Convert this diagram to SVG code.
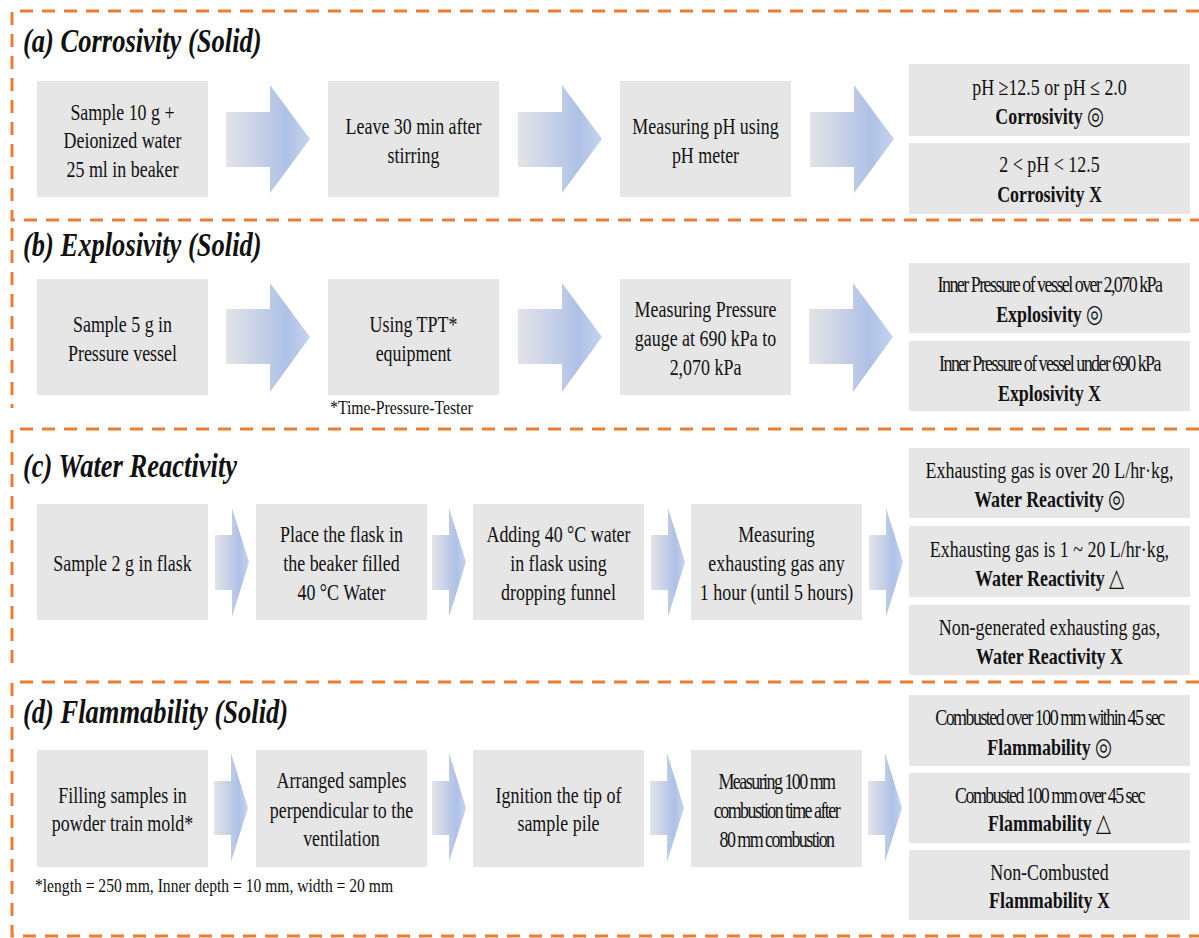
<svg xmlns="http://www.w3.org/2000/svg" width="1199" height="938" viewBox="0 0 1199 938">
<defs>
<linearGradient id="ag" x1="0" y1="0" x2="1" y2="0">
<stop offset="0" stop-color="#E4E4E8"/>
<stop offset="0.72" stop-color="#AEC1E6"/>
<stop offset="1" stop-color="#C6D4EF"/>
</linearGradient>
<style>
.frame{fill:none;stroke:#ED7D31;stroke-width:3;stroke-dasharray:13 9}
.box{fill:#E6E6E6}
.arr{fill:url(#ag)}
text{font-family:"Liberation Serif","Times New Roman",serif;fill:#111}
.t{font-size:23px;text-anchor:middle}
.n{letter-spacing:-1.95px}
.b{font-size:23px;text-anchor:middle;font-weight:bold}
.s{font-weight:normal;font-size:25px}
.h{font-size:34px;font-weight:bold;font-style:italic}
.f{font-size:18px}
</style>
</defs>
<rect width="1199" height="938" fill="#fff"/>
<g id="frames">
<path class="frame" d="M1199,11 H12 V220 H1199"/>
<path class="frame" d="M12,228 V408"/>
<path class="frame" d="M1199,429 H12 V668"/>
<path class="frame" d="M1199,682 H12 V936 H1199"/>
</g>
<g id="titles">
<text class="h" transform="scale(0.78 1)" x="29.5" y="52">(a) Corrosivity (Solid)</text>
<text class="h" transform="scale(0.78 1)" x="29.5" y="256">(b) Explosivity (Solid)</text>
<text class="h" transform="scale(0.78 1)" x="29.5" y="477">(c) Water Reactivity</text>
<text class="h" transform="scale(0.78 1)" x="29.5" y="723">(d) Flammability (Solid)</text>
</g>
<g id="connectors">
<polygon class="arr" points="226,112 270,112 270,85 310,139 270,193 270,167 226,167"/>
<polygon class="arr" points="518,112 562,112 562,85 602,139 562,193 562,167 518,167"/>
<polygon class="arr" points="810,112 854,112 854,85 894,139 854,193 854,167 810,167"/>
<polygon class="arr" points="226,309 270,309 270,283 310,337 270,392 270,364 226,364"/>
<polygon class="arr" points="518,309 562,309 562,283 602,337 562,392 562,364 518,364"/>
<polygon class="arr" points="809,309 853,309 853,283 893,337 853,392 853,364 809,364"/>
<polygon class="arr" points="215,535 232,535 232,508 249,562 232,617 232,590 215,590"/>
<polygon class="arr" points="432,535 449,535 449,508 466,562 449,617 449,590 432,590"/>
<polygon class="arr" points="651,535 668,535 668,508 685,562 668,617 668,590 651,590"/>
<polygon class="arr" points="869,535 886,535 886,508 903,562 886,617 886,590 869,590"/>
<polygon class="arr" points="214,781 231,781 231,753 248,808 231,862 231,835 214,835"/>
<polygon class="arr" points="432,781 449,781 449,753 466,808 449,862 449,835 432,835"/>
<polygon class="arr" points="650,781 667,781 667,753 684,808 667,862 667,835 650,835"/>
<polygon class="arr" points="868,781 885,781 885,753 902,808 885,862 885,835 868,835"/>
</g>
<g id="a1"><rect class="box" x="37" y="81" width="171" height="116"/>
<text class="t" transform="scale(0.78 1)" x="157.05" y="120">Sample 10 g +</text>
<text class="t" transform="scale(0.78 1)" x="157.05" y="148">Deionized water</text>
<text class="t" transform="scale(0.78 1)" x="157.05" y="177">25 ml in beaker</text></g>
<g id="a2"><rect class="box" x="328" y="81" width="171" height="116"/>
<text class="t" transform="scale(0.78 1)" x="530.13" y="134">Leave 30 min after</text>
<text class="t" transform="scale(0.78 1)" x="530.13" y="163">stirring</text></g>
<g id="a3"><rect class="box" x="620" y="81" width="171" height="116"/>
<text class="t" transform="scale(0.78 1)" x="904.49" y="134">Measuring pH using</text>
<text class="t" transform="scale(0.78 1)" x="904.49" y="163">pH meter</text></g>
<g id="a4"><rect class="box" x="909" y="64" width="281" height="72"/>
<text class="t" transform="scale(0.78 1)" x="1345.51" y="95">pH ≥12.5 or pH ≤ 2.0</text>
<text class="b" transform="scale(0.78 1)" x="1345.51" y="124">Corrosivity <tspan class="s">◎</tspan></text></g>
<g id="a5"><rect class="box" x="909" y="143" width="281" height="71"/>
<text class="t" transform="scale(0.78 1)" x="1345.51" y="172">2 &lt; pH &lt; 12.5</text>
<text class="b" transform="scale(0.78 1)" x="1345.51" y="202">Corrosivity X</text></g>
<g id="b1"><rect class="box" x="37" y="279" width="171" height="116"/>
<text class="t" transform="scale(0.78 1)" x="157.05" y="332">Sample 5 g in</text>
<text class="t" transform="scale(0.78 1)" x="157.05" y="361">Pressure vessel</text></g>
<g id="b2"><rect class="box" x="328" y="279" width="171" height="116"/>
<text class="t" transform="scale(0.78 1)" x="530.13" y="332">Using TPT*</text>
<text class="t" transform="scale(0.78 1)" x="530.13" y="361">equipment</text>
<text class="f" transform="scale(0.78 1)" x="423.08" y="414" textLength="183" lengthAdjust="spacingAndGlyphs">*Time-Pressure-Tester</text></g>
<g id="b3"><rect class="box" x="620" y="279" width="171" height="116"/>
<text class="t" transform="scale(0.78 1)" x="904.49" y="317">Measuring Pressure</text>
<text class="t" transform="scale(0.78 1)" x="904.49" y="346">gauge at 690 kPa to</text>
<text class="t" transform="scale(0.78 1)" x="904.49" y="375">2,070 kPa</text></g>
<g id="b4"><rect class="box" x="909" y="263" width="281" height="70"/>
<text class="t n" transform="scale(0.78 1)" x="1345.51" y="292">Inner Pressure of vessel over 2,070 kPa</text>
<text class="b" transform="scale(0.78 1)" x="1345.51" y="322">Explosivity <tspan class="s">◎</tspan></text></g>
<g id="b5"><rect class="box" x="909" y="341" width="281" height="70"/>
<text class="t n" transform="scale(0.78 1)" x="1345.51" y="371">Inner Pressure of vessel under 690 kPa</text>
<text class="b" transform="scale(0.78 1)" x="1345.51" y="401">Explosivity X</text></g>
<g id="c1"><rect class="box" x="37" y="504" width="171" height="116"/>
<text class="t" transform="scale(0.78 1)" x="157.05" y="571">Sample 2 g in flask</text></g>
<g id="c2"><rect class="box" x="256" y="504" width="171" height="116"/>
<text class="t" transform="scale(0.78 1)" x="437.82" y="542">Place the flask in</text>
<text class="t" transform="scale(0.78 1)" x="437.82" y="571">the beaker filled</text>
<text class="t" transform="scale(0.78 1)" x="437.82" y="600">40 °C Water</text></g>
<g id="c3"><rect class="box" x="473" y="504" width="171" height="116"/>
<text class="t" transform="scale(0.78 1)" x="716.03" y="542">Adding 40 °C water</text>
<text class="t" transform="scale(0.78 1)" x="716.03" y="571">in flask using</text>
<text class="t" transform="scale(0.78 1)" x="716.03" y="600">dropping funnel</text></g>
<g id="c4"><rect class="box" x="691" y="504" width="171" height="116"/>
<text class="t" transform="scale(0.78 1)" x="995.51" y="542">Measuring</text>
<text class="t" transform="scale(0.78 1)" x="995.51" y="571">exhausting gas any</text>
<text class="t" transform="scale(0.78 1)" x="995.51" y="600">1 hour (until 5 hours)</text></g>
<g id="c5"><rect class="box" x="909" y="448" width="281" height="70"/>
<text class="t" transform="scale(0.78 1)" x="1345.51" y="478">Exhausting gas is over 20 L/hr·kg,</text>
<text class="b" transform="scale(0.78 1)" x="1345.51" y="507">Water Reactivity <tspan class="s">◎</tspan></text></g>
<g id="c6"><rect class="box" x="909" y="526" width="281" height="71"/>
<text class="t" transform="scale(0.78 1)" x="1345.51" y="557">Exhausting gas is 1 ~ 20 L/hr·kg,</text>
<text class="b" transform="scale(0.78 1)" x="1345.51" y="586">Water Reactivity <tspan class="s">△</tspan></text></g>
<g id="c7"><rect class="box" x="909" y="605" width="281" height="70"/>
<text class="t" transform="scale(0.78 1)" x="1345.51" y="635">Non-generated exhausting gas,</text>
<text class="b" transform="scale(0.78 1)" x="1345.51" y="664">Water Reactivity X</text></g>
<g id="d1"><rect class="box" x="37" y="750" width="171" height="117"/>
<text class="t" transform="scale(0.78 1)" x="157.05" y="803">Filling samples in</text>
<text class="t" transform="scale(0.78 1)" x="157.05" y="831">powder train mold*</text>
<text class="f" transform="scale(0.78 1)" x="44.87" y="892" textLength="459" lengthAdjust="spacingAndGlyphs">*length = 250 mm, Inner depth = 10 mm, width = 20 mm</text></g>
<g id="d2"><rect class="box" x="256" y="750" width="171" height="117"/>
<text class="t" transform="scale(0.78 1)" x="437.82" y="788">Arranged samples</text>
<text class="t" transform="scale(0.78 1)" x="437.82" y="818">perpendicular to the</text>
<text class="t" transform="scale(0.78 1)" x="437.82" y="846">ventilation</text></g>
<g id="d3"><rect class="box" x="473" y="750" width="171" height="117"/>
<text class="t" transform="scale(0.78 1)" x="716.03" y="803">Ignition the tip of</text>
<text class="t" transform="scale(0.78 1)" x="716.03" y="831">sample pile</text></g>
<g id="d4"><rect class="box" x="691" y="750" width="171" height="117"/>
<text class="t n" transform="scale(0.78 1)" x="995.51" y="789">Measuring 100 mm</text>
<text class="t n" transform="scale(0.78 1)" x="995.51" y="818">combustion time after</text>
<text class="t n" transform="scale(0.78 1)" x="995.51" y="847">80 mm combustion</text></g>
<g id="d5"><rect class="box" x="909" y="695" width="281" height="71"/>
<text class="t n" transform="scale(0.78 1)" x="1345.51" y="725">Combusted over 100 mm within 45 sec</text>
<text class="b" transform="scale(0.78 1)" x="1345.51" y="755">Flammability <tspan class="s">◎</tspan></text></g>
<g id="d6"><rect class="box" x="909" y="773" width="281" height="70"/>
<text class="t n" transform="scale(0.78 1)" x="1345.51" y="803">Combusted 100 mm over 45 sec</text>
<text class="b" transform="scale(0.78 1)" x="1345.51" y="831">Flammability <tspan class="s">△</tspan></text></g>
<g id="d7"><rect class="box" x="909" y="850" width="281" height="70"/>
<text class="t" transform="scale(0.78 1)" x="1345.51" y="880">Non-Combusted</text>
<text class="b" transform="scale(0.78 1)" x="1345.51" y="908">Flammability X</text></g>
</svg>
